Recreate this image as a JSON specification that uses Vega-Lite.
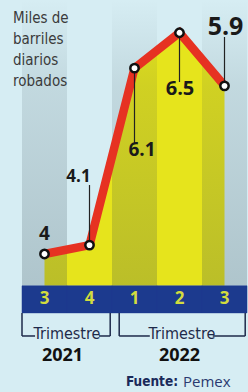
{
  "$schema": "https://vega.github.io/schema/vega-lite/v6.json",
  "width": 248,
  "height": 392,
  "padding": 0,
  "autosize": {"type": "none"},
  "background": "#d6edf3",
  "config": {"view": {"stroke": null}, "axis": {"disable": true}},
  "data": {"values": [
    {"q": "2021-3", "trimestre": "3", "anio": "2021", "valor": 4},
    {"q": "2021-4", "trimestre": "4", "anio": "2021", "valor": 4.1},
    {"q": "2022-1", "trimestre": "1", "anio": "2022", "valor": 6.1},
    {"q": "2022-2", "trimestre": "2", "anio": "2022", "valor": 6.5},
    {"q": "2022-3", "trimestre": "3", "anio": "2022", "valor": 5.9}
  ]},
  "encoding": {
    "x": {"field": "q", "type": "ordinal", "axis": null, "scale": {"type": "band", "range": [22, 247], "paddingInner": 0, "paddingOuter": 0}},
    "y": {"field": "valor", "type": "quantitative", "axis": null, "scale": {"domain": [2.44, 6.87], "nice": false, "zero": false}}
  },
  "layer": [
    {"mark": {"type": "area", "color": "#e6e41c"}, "encoding": {"y2": {"datum": 3.64}}},
    {"transform": [{"filter": "datum.trimestre == '1' || datum.trimestre == '3'"}],
     "mark": {"type": "bar", "color": {"gradient": "linear", "x1": 0, "y1": 0, "x2": 0, "y2": 1, "stops": [{"offset": 0, "color": "rgba(50,70,80,0.0)"}, {"offset": 0.3, "color": "rgba(50,70,80,0.12)"}, {"offset": 1, "color": "rgba(50,70,80,0.24)"}]}},
     "encoding": {"y": {"datum": 6.87}, "y2": {"datum": 3.64}}},
    {"mark": {"type": "bar", "color": "#1c3a8e", "stroke": "#1c3a8e", "strokeWidth": 0.5}, "encoding": {"y": {"datum": 3.64}, "y2": {"datum": 3.334}}},
    {"mark": {"type": "text", "color": "#d2dc3e", "font": "Open Sans", "fontWeight": "bold", "fontSize": 17, "baseline": "middle"}, "encoding": {"y": {"datum": 3.487}, "text": {"field": "trimestre", "type": "nominal"}}},
    {"mark": {"type": "line", "color": "#e63222", "strokeWidth": 8.5}, "encoding": {}},
    {"transform": [{"filter": "datum.q == '2021-4'"}], "mark": {"type": "rule", "color": "#222222", "strokeWidth": 1.2}, "encoding": {"y2": {"datum": 4.779}}},
    {"transform": [{"filter": "datum.q == '2022-1'"}], "mark": {"type": "rule", "color": "#222222", "strokeWidth": 1.2}, "encoding": {"y2": {"datum": 5.254}}},
    {"transform": [{"filter": "datum.q == '2022-2'"}], "mark": {"type": "rule", "color": "#222222", "strokeWidth": 1.2}, "encoding": {"y2": {"datum": 5.943}}},
    {"transform": [{"filter": "datum.q == '2022-3'"}], "mark": {"type": "rule", "color": "#222222", "strokeWidth": 1.2}, "encoding": {"y2": {"datum": 6.452}}},
    {"mark": {"type": "circle", "fill": "#ffffff", "stroke": "#111111", "strokeWidth": 2.5, "size": 70, "opacity": 1}, "encoding": {}},
    {"transform": [{"filter": "datum.q == '2021-3'"}], "mark": {"type": "text", "font": "Open Sans", "fontWeight": "bold", "fontSize": 19, "color": "#1a1a1a", "baseline": "middle", "dx": 0, "dy": -20}, "encoding": {"text": {"field": "valor", "type": "nominal"}}},
    {"transform": [{"filter": "datum.q == '2021-4'"}], "mark": {"type": "text", "font": "Open Sans", "fontWeight": "bold", "fontSize": 17, "color": "#1a1a1a", "baseline": "middle", "dx": -11, "dy": -68}, "encoding": {"text": {"field": "valor", "type": "nominal"}}},
    {"transform": [{"filter": "datum.q == '2022-1'"}], "mark": {"type": "text", "font": "Open Sans", "fontWeight": "bold", "fontSize": 19, "color": "#1a1a1a", "baseline": "middle", "dx": 7.5, "dy": 82}, "encoding": {"text": {"field": "valor", "type": "nominal"}}},
    {"transform": [{"filter": "datum.q == '2022-2'"}], "mark": {"type": "text", "font": "Open Sans", "fontWeight": "bold", "fontSize": 20, "color": "#1a1a1a", "baseline": "middle", "dx": 0.5, "dy": 56}, "encoding": {"text": {"field": "valor", "type": "nominal"}}},
    {"transform": [{"filter": "datum.q == '2022-3'"}], "mark": {"type": "text", "font": "Open Sans", "fontWeight": "bold", "fontSize": 25, "color": "#1a1a1a", "baseline": "middle", "dx": 1, "dy": -59}, "encoding": {"text": {"field": "valor", "type": "nominal"}}},
    {"transform": [{"filter": "datum.q == '2021-3'"}],
     "mark": {"type": "text", "text": ["Miles de", "barriles", "diarios", "robados"], "font": "'DejaVu Sans Condensed', 'Liberation Sans Narrow', 'DejaVu Sans'", "fontSize": 15, "lineHeight": 21, "color": "#3b3b3b", "align": "left", "baseline": "top", "dx": -9},
     "encoding": {"x": {"datum": "2021-3", "type": "ordinal", "bandPosition": 0}, "y": {"datum": 6.745}}},
    {"transform": [{"filter": "datum.q == '2021-3'"}], "mark": {"type": "rule", "color": "#1e2a4a", "strokeWidth": 1.5}, "encoding": {"x": {"datum": "2021-3", "type": "ordinal", "bandPosition": 0}, "y": {"datum": 3.334}, "y2": {"datum": 3.073}}},
    {"transform": [{"filter": "datum.q == '2021-3'"}], "mark": {"type": "rule", "color": "#1e2a4a", "strokeWidth": 1.5}, "encoding": {"x": {"datum": "2021-4", "type": "ordinal", "bandPosition": 0.96}, "y": {"datum": 3.334}, "y2": {"datum": 3.073}}},
    {"transform": [{"filter": "datum.q == '2021-3'"}], "mark": {"type": "rule", "color": "#1e2a4a", "strokeWidth": 1.5}, "encoding": {"x": {"datum": "2022-1", "type": "ordinal", "bandPosition": 0.16}, "y": {"datum": 3.334}, "y2": {"datum": 3.073}}},
    {"transform": [{"filter": "datum.q == '2021-3'"}], "mark": {"type": "rule", "color": "#1e2a4a", "strokeWidth": 1.5}, "encoding": {"x": {"datum": "2022-3", "type": "ordinal", "bandPosition": 0.96}, "y": {"datum": 3.334}, "y2": {"datum": 3.073}}},
    {"transform": [{"filter": "datum.q == '2021-3'"}], "mark": {"type": "rule", "color": "#1e2a4a", "strokeWidth": 1.5}, "encoding": {"x": {"datum": "2021-3", "type": "ordinal", "bandPosition": 0}, "x2": {"datum": "2021-3", "bandPosition": 0.29}, "y": {"datum": 3.073}}},
    {"transform": [{"filter": "datum.q == '2021-3'"}], "mark": {"type": "rule", "color": "#1e2a4a", "strokeWidth": 1.5}, "encoding": {"x": {"datum": "2021-4", "type": "ordinal", "bandPosition": 0.71}, "x2": {"datum": "2021-4", "bandPosition": 0.96}, "y": {"datum": 3.073}}},
    {"transform": [{"filter": "datum.q == '2021-3'"}], "mark": {"type": "rule", "color": "#1e2a4a", "strokeWidth": 1.5}, "encoding": {"x": {"datum": "2022-1", "type": "ordinal", "bandPosition": 0.16}, "x2": {"datum": "2022-1", "bandPosition": 0.84}, "y": {"datum": 3.073}}},
    {"transform": [{"filter": "datum.q == '2021-3'"}], "mark": {"type": "rule", "color": "#1e2a4a", "strokeWidth": 1.5}, "encoding": {"x": {"datum": "2022-3", "type": "ordinal", "bandPosition": 0.24}, "x2": {"datum": "2022-3", "bandPosition": 0.96}, "y": {"datum": 3.073}}},
    {"transform": [{"filter": "datum.q == '2021-3'"}], "mark": {"type": "text", "text": "Trimestre", "font": "'Liberation Sans Narrow', 'DejaVu Sans Condensed'", "fontSize": 16, "color": "#1e2a4a", "baseline": "middle"}, "encoding": {"x": {"datum": "2021-4", "type": "ordinal", "bandPosition": 0}, "y": {"datum": 3.1}}},
    {"transform": [{"filter": "datum.q == '2022-2'"}], "mark": {"type": "text", "text": "Trimestre", "font": "'Liberation Sans Narrow', 'DejaVu Sans Condensed'", "fontSize": 16, "color": "#1e2a4a", "baseline": "middle", "dx": 2.5}, "encoding": {"y": {"datum": 3.1}}},
    {"transform": [{"filter": "datum.q == '2021-3'"}], "mark": {"type": "text", "font": "Open Sans", "fontWeight": "bold", "fontSize": 18, "color": "#111111", "baseline": "middle", "dx": 18}, "encoding": {"y": {"datum": 2.847}, "text": {"field": "anio", "type": "nominal"}}},
    {"transform": [{"filter": "datum.q == '2022-2'"}], "mark": {"type": "text", "font": "Open Sans", "fontWeight": "bold", "fontSize": 18, "color": "#111111", "baseline": "middle"}, "encoding": {"y": {"datum": 2.847}, "text": {"field": "anio", "type": "nominal"}}},
    {"transform": [{"filter": "datum.q == '2022-2'"}], "mark": {"type": "text", "text": "Fuente:", "font": "'Liberation Sans Narrow', 'DejaVu Sans Condensed'", "fontWeight": "bold", "fontSize": 13.5, "color": "#1a2a5a", "baseline": "middle", "align": "right", "dx": -1.5}, "encoding": {"y": {"datum": 2.555}}},
    {"transform": [{"filter": "datum.q == '2022-2'"}], "mark": {"type": "text", "text": "Pemex", "font": "Open Sans", "fontSize": 15, "color": "#2a3a70", "baseline": "middle", "align": "left", "dx": 3.5}, "encoding": {"y": {"datum": 2.555}}}
  ]
}
